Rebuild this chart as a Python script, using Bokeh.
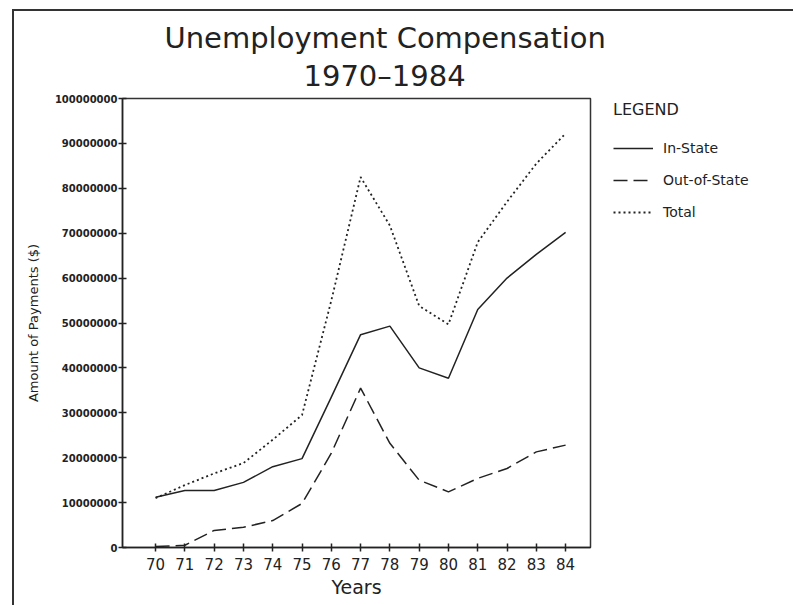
from bokeh.plotting import figure
from bokeh.models import (Legend, LegendItem, Title, Range1d, FixedTicker,
                          ColumnDataSource)
from bokeh.embed import file_html
from bokeh.resources import INLINE

# ---- data ----
years = [70, 71, 72, 73, 74, 75, 76, 77, 78, 79, 80, 81, 82, 83, 84]
year_labels = ["70", "71", "72", "73", "74", "75", "76", "77", "78", "79",
               "80", "81", "82", "83", "84"]
in_state = [11200000, 12700000, 12700000, 14500000, 18000000, 19800000,
            33500000, 47400000, 49300000, 40000000, 37700000, 53000000,
            60000000, 65300000, 70200000]
out_of_state = [200000, 500000, 3800000, 4500000, 6000000, 9800000,
                21000000, 35500000, 23200000, 15000000, 12400000, 15400000,
                17600000, 21300000, 22800000]
total = [11000000, 13900000, 16500000, 18800000, 24000000, 29500000,
         55000000, 82500000, 71700000, 53800000, 49700000, 68000000,
         77000000, 85500000, 92200000]
y_ticks = [0, 10000000, 20000000, 30000000, 40000000, 50000000, 60000000,
           70000000, 80000000, 90000000, 100000000]
y_tick_labels = ["0", "10000000", "20000000", "30000000", "40000000",
                 "50000000", "60000000", "70000000", "80000000", "90000000",
                 "100000000"]

title_line1 = "Unemployment Compensation"
title_line2 = "1970\u20131984"
series_names = ["In-State", "Out-of-State", "Total"]

src = ColumnDataSource(dict(year=years, in_state=in_state,
                            out_of_state=out_of_state, total=total))

INK = "#222222"
ML, MR, MT, MB = 122, 203, 98, 58
FW, FH = 468, 449

p = figure(frame_width=FW, frame_height=FH, output_backend="svg",
           toolbar_location=None,
           x_range=Range1d(68.87, 84.85), y_range=Range1d(0, 100000000),
           min_border_left=ML, min_border_right=MR, min_border_top=MT,
           min_border_bottom=MB, background_fill_color="white",
           border_fill_alpha=0)
# scanned-page frame (left and top edges) painted behind the canvas
p.styles = {
    "background": ("linear-gradient(#333,#333) 12px 9px / 2px 700px no-repeat, "
                   "linear-gradient(#333,#333) 12px 9px / 900px 2px no-repeat, "
                   "white")
}
p.grid.visible = False
p.outline_line_color = "#333333"
p.outline_line_width = 1.5

r_in = p.line("year", "in_state", source=src, line_color=INK, line_width=1.5)
r_out = p.line("year", "out_of_state", source=src, line_color=INK,
               line_width=1.5, line_dash="14 6")
r_tot = p.line("year", "total", source=src, line_color=INK, line_width=1.8,
               line_dash="2 3")

# axes
p.xaxis.ticker = FixedTicker(ticks=years)
p.xaxis.major_label_overrides = {y: l for y, l in zip(years, year_labels)}
p.yaxis.ticker = FixedTicker(ticks=y_ticks)
p.yaxis.major_label_overrides = {t: l for t, l in zip(y_ticks, y_tick_labels)}
for ax in (p.xaxis[0], p.yaxis[0]):
    ax.axis_line_color = INK
    ax.axis_line_width = 1.5
    ax.major_tick_line_color = INK
    ax.major_tick_line_width = 1.5
    ax.major_tick_in = 4
    ax.major_tick_out = 4
    ax.minor_tick_line_color = None
    ax.major_label_text_color = INK
    ax.axis_label_text_color = INK
    ax.axis_label_text_font_style = "normal"

p.xaxis.major_label_text_font = "DejaVu Sans"
p.xaxis.major_label_text_font_size = "15px"
p.xaxis.major_label_standoff = 6
p.xaxis.axis_label = "Years"
p.xaxis.axis_label_text_font = "DejaVu Sans"
p.xaxis.axis_label_text_font_size = "19px"
p.xaxis.axis_label_standoff = 3

p.yaxis.major_label_text_font = "DejaVu Sans"
p.yaxis.major_label_text_font_size = "10px"
p.yaxis.major_label_text_font_style = "bold"
p.yaxis.major_label_standoff = 1
p.yaxis.axis_label = "Amount of Payments ($)"
p.yaxis.axis_label_text_font = "DejaVu Sans"
p.yaxis.axis_label_text_font_size = "13px"
p.yaxis.axis_label_standoff = 11

# title (two lines): the later-added one sits further from the frame
p.add_layout(Title(text=title_line2, align="left", offset=181, standoff=8,
                   vertical_align="top",
                   text_font="DejaVu Sans", text_font_size="29px",
                   text_font_style="normal", text_color=INK), "above")
p.add_layout(Title(text=title_line1, align="left", offset=42, standoff=0,
                   text_font="DejaVu Sans", text_font_size="29px",
                   text_font_style="normal", text_color=INK), "above")

legend = Legend(items=[LegendItem(label=series_names[0], renderers=[r_in]),
                       LegendItem(label=series_names[1], renderers=[r_out]),
                       LegendItem(label=series_names[2], renderers=[r_tot])],
                location=(23, 325), title="LEGEND",
                title_text_font="DejaVu Sans", title_text_font_size="16px",
                title_text_font_style="normal", title_text_color=INK,
                title_standoff=19,
                label_text_font="DejaVu Sans", label_text_font_size="14px",
                label_text_color=INK, glyph_width=40, glyph_height=20,
                label_height=20, spacing=12, label_standoff=10, padding=0,
                margin=0, border_line_color=None, background_fill_alpha=0)
p.add_layout(legend, "right")

open("out.html", "w").write(file_html(p, INLINE))
